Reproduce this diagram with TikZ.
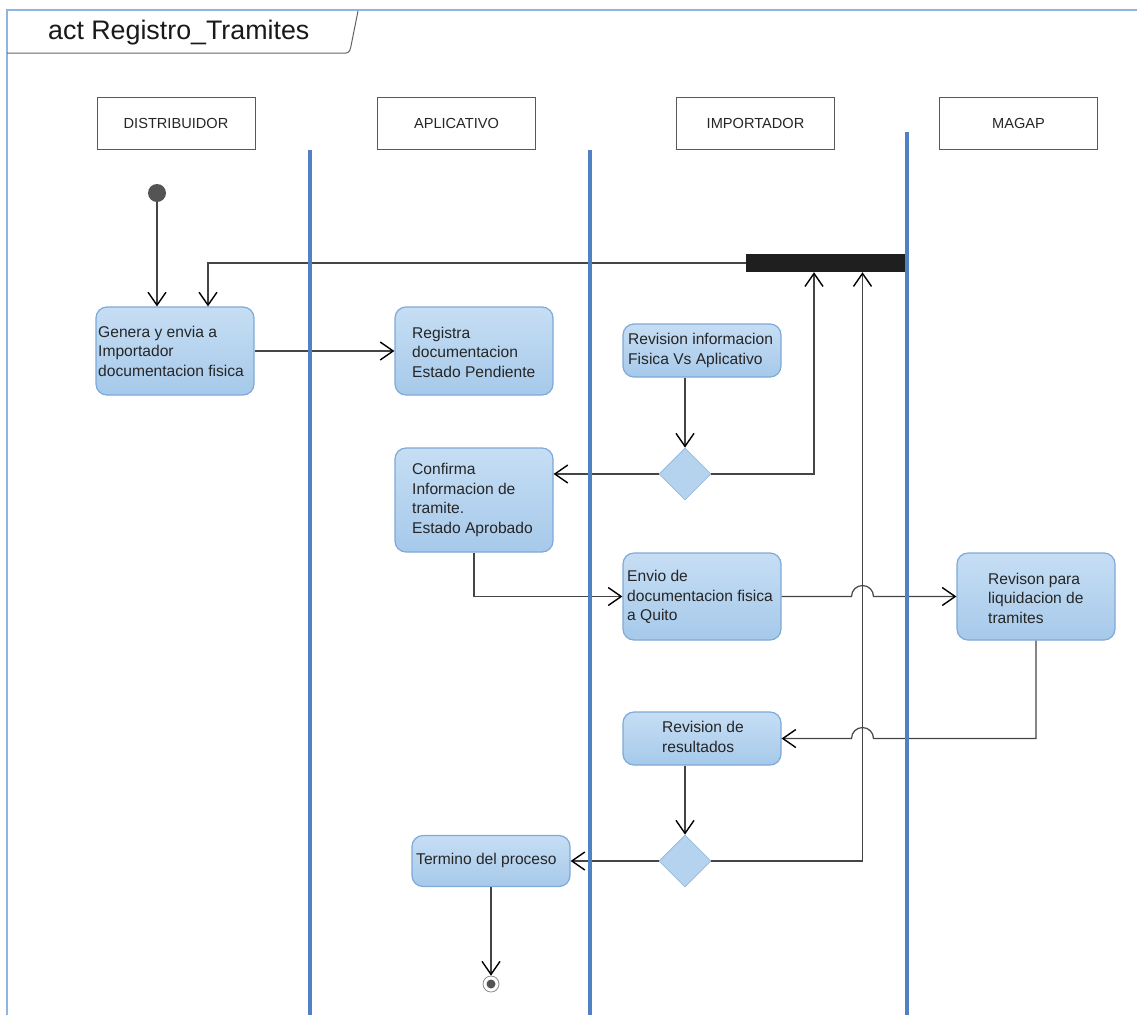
\documentclass[tikz,border=0pt]{standalone}
\usepackage{fontspec}
\setmainfont{Liberation Sans}
\usetikzlibrary{arrows.meta,shapes.geometric}
\definecolor{frameblue}{HTML}{8DB4E2}
\definecolor{laneblue}{HTML}{4F81C4}
\definecolor{actborder}{HTML}{7EA9D8}
\definecolor{acttop}{HTML}{C6DEF4}
\definecolor{actbot}{HTML}{A6C9EA}
\definecolor{diafill}{HTML}{B5D3EF}
\definecolor{linegray}{HTML}{454545}
\begin{document}
\begin{tikzpicture}[x=1pt,y=-1pt,
  actbox/.style={draw=actborder, line width=1.2pt, rounded corners=11pt, top color=acttop, bottom color=actbot, minimum width=158pt, inner sep=0pt},
  acttext/.style={font=\fontsize{15.6}{19.5}\selectfont, align=left, inner sep=0pt, anchor=west, text=black!85},
  lanehead/.style={draw=black!65, line width=1pt, fill=white, minimum width=158pt, minimum height=52pt, inner sep=0pt, font=\fontsize{14.6}{17}\selectfont, text=black!85},
  lane/.style={draw=laneblue, line width=3.5pt},
  flow/.style={draw=linegray, line width=1.2pt, -{Straight Barb[length=13pt,width=18pt,line width=1.4pt,color=black]}},
  decision/.style={diamond, aspect=1, draw=actborder!80, line width=0.8pt, fill=diafill, minimum width=52pt, minimum height=52pt, inner sep=0pt},
]
\useasboundingbox (0,0) rectangle (1137,1015);

% frame and title tab
\draw[frameblue, line width=1.5pt] (7,1015) -- (7,10) -- (1137,10);
\draw[black!60, line width=1pt] (7,53) -- (346,53) to[out=0,in=-100] (351,46) -- (358,11);
\node[anchor=west, font=\fontsize{26.8}{30}\selectfont, inner sep=0pt, text=black!90] (title) at (48,33) {act Registro\_Tramites};

% lane headers
\node[lanehead] (h1) at (176,123) {DISTRIBUIDOR};
\node[lanehead] (h2) at (456.5,123) {APLICATIVO};
\node[lanehead] (h3) at (755.5,123) {IMPORTADOR};
\node[lanehead] (h4) at (1018.5,123) {MAGAP};

% activities
\node[actbox, minimum height=88pt] (a1) at (175,351) {};
\node[acttext] (a1t) at (98,351) {Genera y envia a\\Importador\\documentacion fisica};
\node[actbox, minimum height=88pt] (a2) at (474,351) {};
\node[acttext] (a2t) at (412,352) {Registra\\documentacion\\Estado Pendiente};
\node[actbox, minimum height=53pt] (a3) at (702,350.5) {};
\node[acttext] (a3t) at (628,350.5) {Revision informacion\\Fisica Vs Aplicativo};
\node[actbox, minimum height=104pt] (a4) at (474,500) {};
\node[acttext] (a4t) at (412,500) {Confirma\\Informacion de\\tramite.\\Estado Aprobado};
\node[actbox, minimum height=87pt] (a5) at (702,596.5) {};
\node[acttext] (a5t) at (627,597) {Envio de\\documentacion fisica\\a Quito};
\node[actbox, minimum height=87pt] (a6) at (1036,596.5) {};
\node[acttext] (a6t) at (988,598) {Revison para\\liquidacion de\\tramites};
\node[actbox, minimum height=53pt] (a7) at (702,738.5) {};
\node[acttext] (a7t) at (662,737) {Revision de\\resultados};
\node[actbox, minimum height=51pt] (a8) at (491,861) {};
\node[acttext] (a8t) at (416,860) {Termino del proceso};

% decisions
\node[decision] (d1) at (685,474) {};
\node[decision] (d2) at (685,861) {};

% fork bar, initial and final nodes
\node[fill=black!88, minimum width=159pt, minimum height=18pt, inner sep=0pt] (fork) at (825.5,263) {};
\node[circle, fill=black!67, minimum size=18pt, inner sep=0pt] (init) at (157,193) {};
\node[circle, draw=black!45, fill=white, line width=0.8pt, minimum size=16pt, inner sep=0pt] (fin) at (491,984) {};
\node[circle, fill=black!67, minimum size=9pt, inner sep=0pt] (fini) at (fin) {};
\coordinate (jv) at (862.5,0);

% connectors
\draw[flow] (init) -- (init |- a1.north);
\draw[flow] (fork.west) -| ([xshift=33pt]a1.north);
\draw[flow] (a1.east) -- (a2.west);
\draw[flow] (a3.south -| d1) -- (d1.north);
\draw[flow] (d1.west) -- (d1.west -| a4.east);
\draw[flow] (d1.east) -| ([xshift=-11.5pt]fork.south);
\draw[flow] (a4.south) |- (a5.west);
\draw[flow] (a5.east) -- ([xshift=-11pt]a5.east -| jv) arc[start angle=180,end angle=360,radius=11] -- (a6.west);
\draw[flow] (a6.south) |- ([xshift=11pt]a7.east -| jv) arc[start angle=0,end angle=-180,radius=11] -- (a7.east);
\draw[flow] (a7.south -| d2) -- (d2.north);
\draw[flow] (d2.west) -- (a8.east);
\draw[flow] (d2.east) -| (jv |- fork.south);
\draw[flow] (a8.south) -- (fin.north);

% lane separators
\draw[lane] (310,150) -- (310,1015);
\draw[lane] (590,150) -- (590,1015);
\draw[lane] (907,132) -- (907,1015);
\end{tikzpicture}
\end{document}
